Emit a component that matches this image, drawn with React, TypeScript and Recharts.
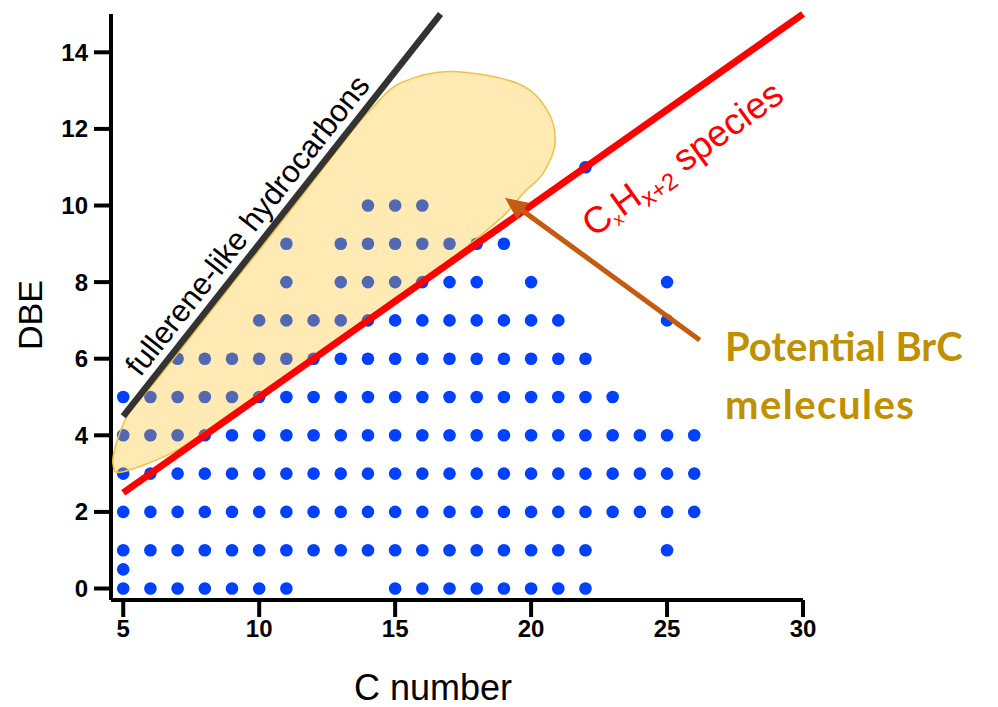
import { ScatterChart, Scatter, XAxis, YAxis } from 'recharts';

// C numbers that carry a dot, one list per DBE row
const dbeRows = [0, 0.5, 1, 2, 3, 4, 5, 6, 7, 8, 9, 10, 11];
const cAtDbe0 = [5, 6, 7, 8, 9, 10, 11, 15, 16, 17, 18, 19, 20, 21, 22];
const cAtDbe05 = [5];
const cAtDbe1 = [5, 6, 7, 8, 9, 10, 11, 12, 13, 14, 15, 16, 17, 18, 19, 20, 21, 22, 25];
const cAtDbe2 = [5, 6, 7, 8, 9, 10, 11, 12, 13, 14, 15, 16, 17, 18, 19, 20, 21, 22, 23, 24, 25, 26];
const cAtDbe3 = [5, 6, 7, 8, 9, 10, 11, 12, 13, 14, 15, 16, 17, 18, 19, 20, 21, 22, 23, 24, 25, 26];
const cAtDbe4 = [5, 6, 7, 8, 9, 10, 11, 12, 13, 14, 15, 16, 17, 18, 19, 20, 21, 22, 23, 24, 25, 26];
const cAtDbe5 = [5, 6, 7, 8, 9, 10, 11, 12, 13, 14, 15, 16, 17, 18, 19, 20, 21, 22, 23];
const cAtDbe6 = [7, 8, 9, 10, 11, 12, 13, 14, 15, 16, 17, 18, 19, 20, 21, 22];
const cAtDbe7 = [10, 11, 12, 13, 14, 15, 16, 17, 18, 19, 20, 21, 25];
const cAtDbe8 = [11, 13, 14, 15, 16, 17, 18, 20, 25];
const cAtDbe9 = [11, 13, 14, 15, 16, 17, 18, 19];
const cAtDbe10 = [14, 15, 16];
const cAtDbe11 = [22];
const cByRow = [cAtDbe0, cAtDbe05, cAtDbe1, cAtDbe2, cAtDbe3, cAtDbe4, cAtDbe5, cAtDbe6, cAtDbe7, cAtDbe8, cAtDbe9, cAtDbe10, cAtDbe11];

// outline of the "potential BrC" region (tip -> lower edge -> round end -> along the fullerene line)
const blobC = [4.63, 5.0, 7.0, 9.0, 12.7, 16.4, 18.86, 19.71, 20.44, 20.88, 20.59, 19.49, 17.02, 15.18, 14.19, 13.75, 12.87, 11.73, 10.59, 9.04, 7.68, 6.14, 5.18, 4.75];
const blobDbe = [3.23, 3.05, 3.62, 4.6, 6.4, 8.25, 9.65, 10.32, 10.84, 11.63, 12.49, 13.19, 13.5, 13.19, 12.57, 12.23, 11.44, 10.4, 9.36, 7.98, 6.75, 5.37, 4.54, 3.8];

// guide lines
const alkaneC = [5, 30];
const alkaneDbe = [2.5, 15];
const fullereneC = [5, 16.67];
const fullereneDbe = [4.5, 15];
const arrowC = [26.2, 19.04];
const arrowDbe = [6.49, 10.2];

const xTicks = [5, 10, 15, 20, 25, 30];
const yTicks = [0, 2, 4, 6, 8, 10, 12, 14];

const dots = dbeRows.flatMap((y, i) => cByRow[i].map((x) => ({ x, y })));
const blob = blobC.map((x, i) => ({ x, y: blobDbe[i] }));
const alkane = alkaneC.map((x, i) => ({ x, y: alkaneDbe[i] }));
const fullerene = fullereneC.map((x, i) => ({ x, y: fullereneDbe[i] }));
const arrow = arrowC.map((x, i) => ({ x, y: arrowDbe[i] }));

const fullereneLabel = [{ x: 5.63, y: 5.5 }];
const speciesLabel = [{ x: 22.3, y: 9.15 }];
const brcLabel = [{ x: 27.13, y: 5.95 }];

const arial = 'Liberation Sans, Arial, sans-serif';

function closedSpline(pts: { x: number; y: number }[]) {
  const n = pts.length;
  let d = `M${pts[0].x},${pts[0].y}`;
  for (let i = 0; i < n; i++) {
    const p0 = pts[(i - 1 + n) % n];
    const p1 = pts[i];
    const p2 = pts[(i + 1) % n];
    const p3 = pts[(i + 2) % n];
    const c1x = p1.x + (p2.x - p0.x) / 6;
    const c1y = p1.y + (p2.y - p0.y) / 6;
    const c2x = p2.x - (p3.x - p1.x) / 6;
    const c2y = p2.y - (p3.y - p1.y) / 6;
    d += ` C${c1x},${c1y} ${c2x},${c2y} ${p2.x},${p2.y}`;
  }
  return d + 'Z';
}

const noShape = () => <g />;

export default function App() {
  return (
    <div style={{ position: 'absolute', left: 0, top: 0, background: '#fff' }}>
      <ScatterChart width={998} height={707} margin={{ top: 14, right: 195, bottom: 0, left: 0 }}>
        <XAxis
          type="number"
          dataKey="x"
          domain={[4.55, 30]}
          ticks={xTicks}
          height={107}
          axisLine={{ stroke: '#000', strokeWidth: 4 }}
          tickLine={{ stroke: '#000', strokeWidth: 4 }}
          tickSize={17}
          tickMargin={3}
          tick={{ fill: '#000', fontSize: 24, fontWeight: 700, fontFamily: arial }}
          label={{
            content: (p: any) => (
              <text
                x={p.viewBox.x + p.viewBox.width / 2 - 24}
                y={p.viewBox.y + p.viewBox.height - 7}
                textAnchor="middle"
                fontSize={36}
                fontFamily={arial}
                fill="#000"
              >
                C number
              </text>
            ),
          }}
        />
        <YAxis
          type="number"
          dataKey="y"
          domain={[-0.3, 15]}
          ticks={yTicks}
          width={111}
          axisLine={{ stroke: '#000', strokeWidth: 4 }}
          tickLine={{ stroke: '#000', strokeWidth: 4 }}
          tickSize={17}
          tickMargin={6}
          tick={{ fill: '#000', fontSize: 24, fontWeight: 700, fontFamily: arial }}
          label={{
            content: (p: any) => {
              const x = p.viewBox.x + 42;
              const y = p.viewBox.y + p.viewBox.height / 2 + 8;
              return (
                <text
                  x={x}
                  y={y}
                  transform={`rotate(-90 ${x} ${y})`}
                  textAnchor="middle"
                  fontSize={34}
                  fontFamily={arial}
                  fill="#000"
                >
                  DBE
                </text>
              );
            },
          }}
        />

        {/* measured species */}
        <Scatter
          data={dots}
          isAnimationActive={false}
          fill="#0040ff"
          shape={(p: any) => <circle cx={p.cx} cy={p.cy} r={6.3} fill="#0040ff" />}
        />

        {/* potential BrC region, drawn over the dots */}
        <Scatter
          data={blob}
          isAnimationActive={false}
          shape={noShape}
          line={(p: any) => (
            <path
              d={closedSpline(p.points)}
              fill="rgba(255, 190, 20, 0.32)"
              stroke="#f2c246"
              strokeWidth={1.6}
            />
          )}
        />

        {/* CxHx+2 line */}
        <Scatter
          data={alkane}
          isAnimationActive={false}
          shape={noShape}
          line={{ stroke: '#ff0000', strokeWidth: 7, fill: 'none' }}
        />

        {/* fullerene-like line */}
        <Scatter
          data={fullerene}
          isAnimationActive={false}
          shape={noShape}
          line={{ stroke: '#333333', strokeWidth: 6.5, fill: 'none' }}
        />

        {/* arrow */}
        <Scatter
          data={arrow}
          isAnimationActive={false}
          shape={noShape}
          line={(p: any) => {
            const [a, b] = p.points;
            const dx = b.x - a.x;
            const dy = b.y - a.y;
            const len = Math.hypot(dx, dy);
            const ux = dx / len;
            const uy = dy / len;
            const head = 22;
            const half = 10;
            const bx = b.x - ux * head;
            const by = b.y - uy * head;
            return (
              <g>
                <line x1={a.x} y1={a.y} x2={bx + ux * 2} y2={by + uy * 2} stroke="#c55a11" strokeWidth={5} />
                <polygon
                  points={`${b.x},${b.y} ${bx - uy * half},${by + ux * half} ${bx + uy * half},${by - ux * half}`}
                  fill="#c55a11"
                />
              </g>
            );
          }}
        />

        {/* annotations */}
        <Scatter
          data={fullereneLabel}
          isAnimationActive={false}
          shape={(p: any) => (
            <text
              x={p.cx}
              y={p.cy}
              transform={`rotate(-51.7 ${p.cx} ${p.cy})`}
              fontSize={31}
              fontFamily={arial}
              fill="#000"
            >
              fullerene-like hydrocarbons
            </text>
          )}
        />
        <Scatter
          data={speciesLabel}
          isAnimationActive={false}
          shape={(p: any) => (
            <text
              x={p.cx}
              y={p.cy}
              transform={`rotate(-35.8 ${p.cx} ${p.cy})`}
              fontSize={37}
              fontFamily={arial}
              fill="#ff0000"
            >
              C
              <tspan fontSize={17} dy={5}>x</tspan>
              <tspan dy={-5}>H</tspan>
              <tspan fontSize={24} dy={7}>x+2</tspan>
              <tspan dy={-7}> species</tspan>
            </text>
          )}
        />
        <Scatter
          data={brcLabel}
          isAnimationActive={false}
          shape={(p: any) => (
            <text x={p.cx} y={p.cy} fontSize={40} fontWeight={700} fontFamily="Lato, 'Open Sans', sans-serif" fill="#bf9000">
              <tspan x={p.cx}>Potential BrC</tspan>
              <tspan x={p.cx} dy={58} letterSpacing={1.5}>melecules</tspan>
            </text>
          )}
        />
      </ScatterChart>
    </div>
  );
}
